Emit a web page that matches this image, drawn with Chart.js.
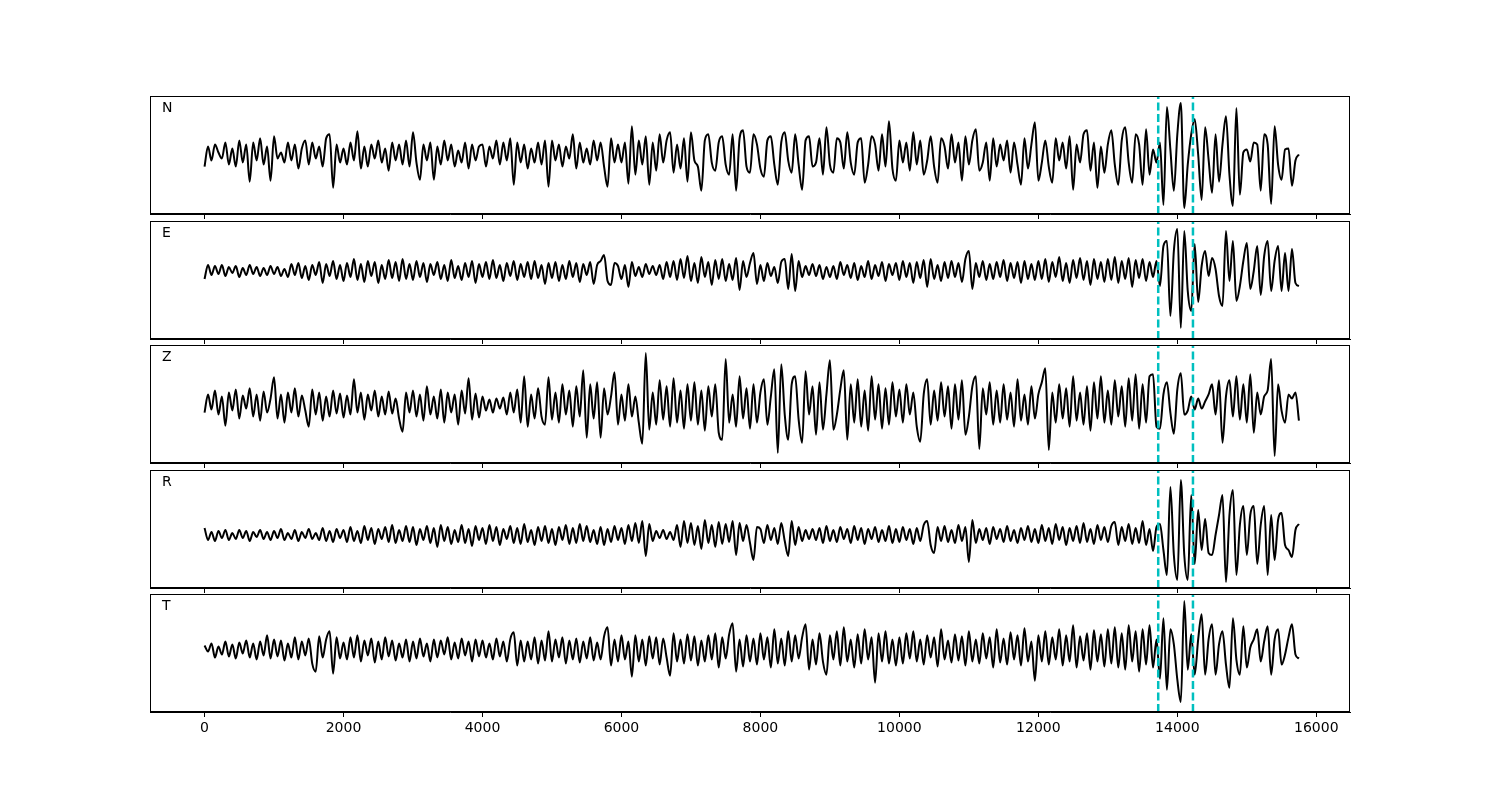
<!DOCTYPE html>
<html>
<head>
<meta charset="utf-8">
<script src="https://cdn.jsdelivr.net/npm/chart.js@4.4.1/dist/chart.umd.min.js"></script>
<style>
body { margin: 0; background: #fff; }
#wrap { position: relative; width: 1500px; height: 800px; }
#wrap canvas { position: absolute; left: 0; }
</style>
</head>
<body>
<div id="wrap"></div>
<script>
// component names, top to bottom
var components = ['N', 'E', 'Z', 'R', 'T'];
// sample spacing along x
var sampleStep = 50;
// phase picks (dashed cyan lines)
var picks = [13725, 14225];
var xTicks = [0, 2000, 4000, 6000, 8000, 10000, 12000, 14000, 16000];

// amplitudes, one row per 1000 samples-units
var traceN = [].concat(
	[-12,8,-6,10,2,-4,12,-10,6,-12,14,-8,10,-27,12,-6,16,-10,8,-26],
	[18,-4,2,-8,12,-6,10,-14,6,14,-10,12,-4,8,-12,16,20,-33,10,-8],
	[6,-10,12,-6,23,-14,8,-12,10,-4,14,-8,6,-16,12,-6,10,-10,14,-12],
	[22,-8,-25,10,-6,12,-25,8,-10,14,-6,10,-12,4,-8,12,-14,10,-6,8],
	[10,-12,8,-4,14,-10,12,-6,16,-30,12,-8,10,-14,6,-8,12,-10,14,-32],
	[14,-6,10,-12,8,-4,20,-14,12,-8,6,-10,14,-6,12,-12,-32,16,-8,10],
	[-8,12,-29,28,-20,14,-10,18,-30,12,-16,20,-8,14,22,-18,10,-14,16,-27],
	[22,-6,-12,-36,14,20,-8,-16,12,18,-10,-20,20,-36,16,24,-12,-18,20,10],
	[-14,-22,14,18,-10,-30,12,22,-6,-18,20,-10,-35,14,18,-12,-8,16,-20,27],
	[-10,-18,16,12,-14,22,-8,-20,12,16,-28,-10,18,10,-16,20,-12,33,-14,-26],
	[14,-8,12,-16,22,-10,14,-20,-6,18,-12,-28,16,8,-14,20,-8,12,-26,18],
	[-10,14,25,-16,-8,12,-26,16,-12,10,-6,14,-18,12,-10,-30,16,-14,10,32],
	[-26,-8,14,-12,-28,16,-6,12,-14,18,-35,10,-8,20,24,-16,12,-33,8,-18],
	[10,24,-10,-30,14,27,-8,-28,20,10,-30,25,-20,5,-8,12,-50,47,5,-36],
	[20,51,-53,-10,20,35,0,-45,27,-5,-38,20,-27,10,38,-20,-51,46,-40,2],
	[5,-7,12,10,-36,20,10,-49,28,-10,-25,5,6,-31,-6,0]
);
var traceE = [].concat(
	[-8,6,-4,5,-3,6,-5,4,-2,5,-6,3,-4,6,-3,4,-5,3,-4,5],
	[-3,4,-5,2,-6,7,-4,8,-7,5,-9,6,-4,9,-12,7,-5,10,-8,6],
	[-10,8,-6,12,-9,7,-11,10,-5,9,-12,6,-8,11,-7,9,-10,12,-8,7],
	[-9,10,-6,8,-11,7,-4,9,-8,6,-10,11,-7,5,-9,8,-6,10,-12,7],
	[-6,9,-8,11,-7,6,-10,8,-5,10,-9,7,-6,9,-8,10,-7,6,-13,8],
	[-7,9,-10,6,-8,10,-6,8,-11,7,-4,9,-13,6,10,16,-10,-14,8,5],
	[-8,6,-16,9,-5,4,-6,7,-3,5,-4,6,-8,9,-6,10,-9,12,-7,15],
	[-10,8,-12,14,-6,9,-14,11,-8,12,-10,7,-9,13,-19,10,-6,8,18,-13],
	[6,-10,8,-5,4,-12,9,12,-18,17,-20,10,-6,5,-4,7,-5,6,-8,4],
	[-6,5,-8,9,-4,6,-7,8,-9,5,-6,10,-8,6,-5,9,-10,7,-4,8],
	[-9,10,-6,8,-12,9,-7,11,-16,12,-8,6,-10,9,-7,10,-6,8,-11,12],
	[20,-18,8,-6,10,-9,7,-8,9,-6,11,-10,8,-7,9,-12,10,-8,7,-9],
	[10,-8,12,-11,9,-6,14,-10,8,-12,11,-7,13,-9,10,-14,12,-8,9,-11],
	[12,-9,14,-12,10,-8,13,-16,11,-7,12,-10,9,-6,10,-15,25,30,-45,20],
	[42,-57,40,-20,-40,27,-31,5,20,-5,13,2,-25,-35,40,-10,30,-30,-15,10],
	[28,-18,0,25,-24,15,30,-20,10,25,-20,18,-20,22,-12,-15]
);
var traceZ = [].concat(
	[-8,10,-5,14,-10,8,-21,12,-6,15,-14,9,-4,16,-12,10,-16,13,-8,6],
	[27,-14,10,-18,12,-8,16,-12,9,-6,-22,15,-10,12,-16,8,-12,14,-9,11],
	[-13,9,-10,25,-8,12,-15,10,-6,14,-12,8,-10,13,-9,6,-14,-27,12,-8],
	[14,-12,10,-16,18,-10,8,-14,15,-18,12,-8,10,-20,14,-9,26,-15,11,-13],
	[8,-6,5,-8,6,-4,7,-10,12,-8,15,-18,28,-22,10,-14,16,-12,-20,27],
	[-15,12,-18,20,-10,14,-22,18,-12,34,-33,20,-14,22,-33,16,-10,8,32,-20],
	[10,-16,20,-12,8,-18,-39,51,-25,12,-20,24,-15,18,-22,26,-18,14,-24,20],
	[-16,22,-20,14,-26,18,-12,20,-28,-35,45,-18,10,-22,28,-14,16,-24,20,-18],
	[12,25,-20,8,35,-48,40,-10,-35,20,28,-15,-38,33,-10,18,-30,22,-25,10],
	[44,-25,-10,15,34,-35,20,-18,25,-22,14,-26,28,-15,20,-24,16,-20,22,-12],
	[15,-18,20,-10,12,-22,-37,10,25,-20,14,-16,22,-12,18,-24,20,-15,24,-30],
	[-12,18,28,-44,16,-10,22,-20,14,-18,20,-15,12,-22,25,-16,10,-20,18,-14],
	[10,22,36,-45,12,-18,20,-14,16,-22,28,-16,12,-20,18,-26,22,-14,28,-18],
	[14,-20,24,-12,18,-22,26,-16,30,-24,20,-18,28,30,-22,-24,10,22,-8,-29],
	[15,31,-10,-6,8,-5,6,-4,3,10,20,-10,24,-38,8,24,-12,28,-15,20],
	[-18,30,-28,12,-10,8,14,45,-51,20,-6,-18,10,6,12,-16]
);
var traceR = [].concat(
	[7,-5,3,-6,4,-3,5,-5,2,-4,5,-3,4,-6,3,-2,5,-4,3,-5],
	[4,-3,6,-5,2,-4,5,-6,3,-3,6,-4,2,-5,7,-6,4,-7,6,-3],
	[5,-7,8,-6,4,-8,9,-5,7,-9,6,-4,8,-7,10,-8,5,-6,9,-7],
	[8,-10,6,-5,9,-8,7,-12,10,-6,8,-9,5,-7,10,-8,6,-11,9,-5],
	[7,-9,10,-6,8,-10,6,-4,9,-8,7,-9,11,-7,5,-10,8,-6,9,-8],
	[6,-10,8,-5,10,-9,7,-8,11,-6,9,-7,5,-9,8,-10,6,-7,9,-5],
	[7,-9,10,-6,12,-8,14,-21,11,-6,4,-3,5,-4,3,-5,10,-12,14,-8],
	[12,-10,9,-14,15,-8,10,-12,13,-9,11,-7,14,-20,12,-6,10,-8,-25,8],
	[6,-8,10,-5,7,-9,12,-6,-21,14,-10,8,-6,5,-4,6,-5,7,-8,9],
	[-6,5,-7,8,-4,6,-8,9,-5,7,-9,6,-4,8,-7,5,-6,9,-8,6],
	[-7,8,-5,6,-9,7,-6,10,14,-10,-18,8,-6,9,-7,5,-8,10,-6,8],
	[-27,15,-8,6,-5,7,-9,8,-4,6,-7,9,-6,5,-8,7,-5,9,-7,6],
	[-8,10,-6,7,-9,11,-5,8,-10,7,-6,9,-8,12,-7,6,-9,10,-5,8],
	[-7,9,13,-10,8,-6,11,-9,7,-8,14,-10,6,-16,8,11,-15,-40,48,-20],
	[-45,55,-20,-45,40,-29,25,-15,16,-18,-20,0,20,40,-47,20,45,-40,10,29],
	[-20,20,29,-29,10,29,-40,20,-25,15,22,-10,-15,-22,5,11]
);
var traceT = [].concat(
	[4,-2,6,-8,3,-5,8,-7,5,-9,7,-4,9,-8,6,-10,8,-6,14,-9],
	[10,-7,9,-11,6,-8,12,-10,8,-6,11,-14,-22,13,-8,10,18,-24,12,-9],
	[7,-10,12,-8,14,-12,9,-6,11,-13,8,-10,12,-7,9,-11,6,-8,10,-12],
	[8,-9,11,-7,6,-12,10,-8,9,-5,12,-10,7,-9,11,-6,8,-12,10,-7],
	[9,-8,6,-10,11,-7,8,-12,10,17,-16,9,-12,8,-10,12,-14,9,-11,18],
	[-12,10,-8,12,-14,9,-10,11,-13,8,-9,12,-11,7,-10,13,22,-16,10,-12],
	[14,-10,8,-27,14,-12,10,-16,13,-9,12,-15,11,-8,-26,16,-12,10,-14,15],
	[-11,13,-16,9,-12,14,-10,16,-18,12,-9,15,26,-22,10,-17,14,-12,11,-15],
	[16,-10,12,-18,20,-14,11,-16,18,-12,14,-9,12,25,-20,10,-15,16,-12,-25],
	[14,-10,18,-16,22,-12,10,-18,15,-14,20,-10,12,-33,16,-12,18,-14,10,-16],
	[12,-14,16,-9,18,-12,10,-15,14,-8,12,-17,20,-10,9,-13,15,-11,13,-16],
	[18,-12,10,-14,16,-9,12,-18,20,-13,11,-15,17,-10,14,-16,21,-12,8,-31],
	[14,-12,18,-15,12,-10,20,-16,14,-12,24,-18,13,-11,16,-20,19,-12,15,-17],
	[20,-14,22,-18,16,-20,24,-12,18,-22,20,-15,24,-18,10,-29,31,-40,20,5],
	[-30,-52,48,-20,15,-25,10,35,-25,10,25,-25,5,18,-15,-38,31,-10,-25,23],
	[-18,2,10,20,-12,8,23,-25,10,20,-15,-5,12,25,-5,-9]
);
var traces = [traceN, traceE, traceZ, traceR, traceT];
// vertical limits of each panel (autoscaled in the original)
var ampLow = [-59, -68, -58, -53, -62];
var ampHigh = [58, 50, 59, 65, 55];

var panelTops = [96, 221, 345, 470, 594];
var panelHeight = 118;

var framePlugin = {
	id: 'frame',
	afterDraw: function(chart) {
		var ca = chart.chartArea;
		var ctx = chart.ctx;
		ctx.save();
		ctx.strokeStyle = '#000';
		ctx.lineWidth = 1;
		ctx.strokeRect(ca.left + 0.5, ca.top + 0.5, ca.right - ca.left - 1, ca.bottom - ca.top - 1);
		ctx.fillStyle = '#000';
		ctx.font = '14px "DejaVu Sans"';
		ctx.textBaseline = 'top';
		ctx.fillText(chart.options.plugins.frame.label, ca.left + 12, ca.top + 5);
		ctx.restore();
	}
};

var wrap = document.getElementById('wrap');

var makePanel = function(i) {
	var last = i === traces.length - 1;
	var axisH = last ? 40 : 8;
	var canvas = document.createElement('canvas');
	canvas.width = 1500;
	canvas.height = 2 + panelHeight + axisH;
	canvas.style.top = (panelTops[i] - 2) + 'px';
	wrap.appendChild(canvas);

	var points = traces[i].map(function(v, k) { return { x: k * sampleStep, y: v }; });
	var datasets = picks.map(function(p) {
		return {
			data: [{ x: p, y: ampLow[i] }, { x: p, y: ampHigh[i] }],
			borderColor: '#00bfbf',
			borderWidth: 2.5,
			borderDash: [8, 3.5],
			pointRadius: 0,
			order: 1
		};
	});
	datasets.push({
		data: points,
		borderColor: '#000',
		borderWidth: 2,
		borderJoinStyle: 'round',
		pointRadius: 0,
		cubicInterpolationMode: 'monotone',
		order: 2
	});

	new Chart(canvas.getContext('2d'), {
		type: 'line',
		data: { datasets: datasets },
		plugins: [framePlugin],
		options: {
			responsive: false,
			animation: false,
			events: [],
			layout: { padding: { left: 150, right: 150, top: 2, bottom: 0 } },
			plugins: {
				legend: { display: false },
				tooltip: { enabled: false },
				frame: { label: components[i] }
			},
			scales: {
				x: {
					type: 'linear',
					min: -785,
					max: 16485,
					afterBuildTicks: function(axis) {
						axis.ticks = xTicks.map(function(v) { return { value: v }; });
					},
					afterFit: function(axis) { axis.height = axisH; },
					grid: { drawOnChartArea: false, drawTicks: true, tickLength: 5, color: '#000', lineWidth: 1 },
					border: { display: true, color: '#000', width: 1 },
					ticks: {
						display: last,
						color: '#000',
						font: { family: 'DejaVu Sans', size: 14 },
						padding: 3,
						maxRotation: 0,
						autoSkip: false,
						callback: function(v) { return String(v); }
					}
				},
				y: { display: false, min: ampLow[i], max: ampHigh[i] }
			}
		}
	});
};

for (var i = 0; i < traces.length; i++) {
	makePanel(i);
}
</script>
</body>
</html>
